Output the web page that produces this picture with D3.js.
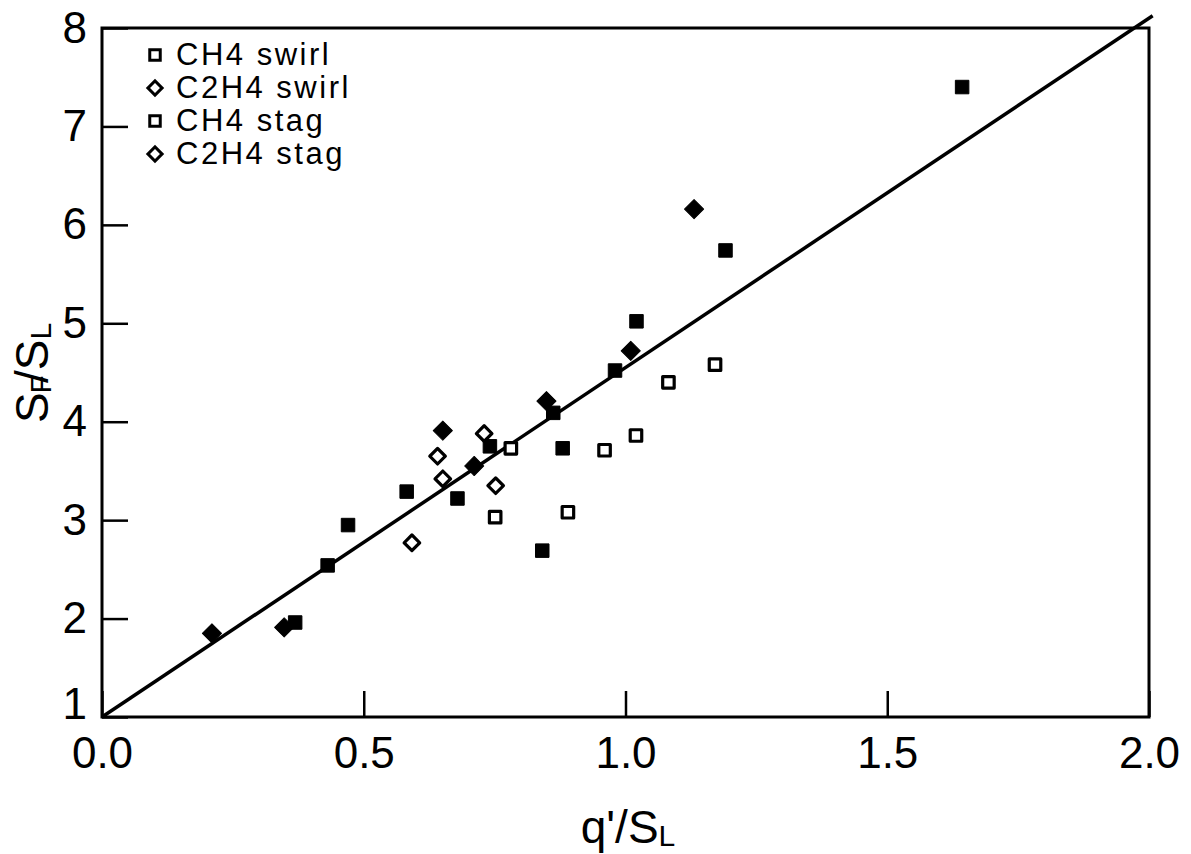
<!DOCTYPE html>
<html>
<head>
<meta charset="utf-8">
<script src="https://cdn.jsdelivr.net/npm/d3@7"></script>
<style>
  body { margin: 0; background: #fff; }
  text { font-family: "Liberation Sans", Arial, Helvetica, sans-serif; fill: #000; }
</style>
</head>
<body>
<div id="canvas"></div>
<script>
// data: [q'/SL, SF/SL]
const ch4Swirl = [
  [1.643, 7.40], [1.191, 5.74], [1.021, 5.02], [0.980, 4.52], [0.862, 4.09],
  [0.880, 3.73], [0.741, 3.75], [0.582, 3.29], [0.679, 3.22], [0.470, 2.95],
  [0.431, 2.54], [0.841, 2.69], [0.369, 1.96]
];
const c2h4Swirl = [
  [0.210, 1.85], [0.348, 1.91], [0.651, 3.91], [0.711, 3.55], [0.849, 4.21],
  [1.010, 4.72], [1.131, 6.16]
];
const ch4Stag = [
  [0.781, 3.73], [0.751, 3.03], [0.890, 3.08], [0.960, 3.71], [1.020, 3.86],
  [1.082, 4.40], [1.171, 4.58]
];
const c2h4Stag = [
  [0.730, 3.88], [0.641, 3.65], [0.651, 3.42], [0.752, 3.35], [0.592, 2.77]
];
// fit line SF/SL = 1 + 3.55 q'/SL
const fitLine = [[0, 1], [2.007, 8.125]];
const xTicks = [0, 0.5, 1.0, 1.5, 2.0];
const yTicks = [1, 2, 3, 4, 5, 6, 7, 8];
const legendNames = ["CH4 swirl", "C2H4 swirl", "CH4 stag", "C2H4 stag"];

const width = 1191, height = 854;
const margin = { top: 28, left: 102, bottom: 137, right: 42 };
const iwidth = width - margin.left - margin.right;
const iheight = height - margin.top - margin.bottom;

const svg = d3.select("#canvas").append("svg")
  .attr("width", width)
  .attr("height", height);

const g = svg.append("g").attr("transform", `translate(${margin.left},${margin.top})`);

const x = d3.scaleLinear().domain([0, 2]).range([0, iwidth]);
const y = d3.scaleLinear().domain([1, 8]).range([iheight, 0]);

// axes with inward ticks
const xAxis = g.append("g")
  .attr("transform", `translate(0,${iheight})`)
  .call(d3.axisBottom(x).tickValues(xTicks).tickFormat(d3.format(".1f"))
    .tickSizeInner(-26).tickSizeOuter(0).tickPadding(20));
const yAxis = g.append("g")
  .call(d3.axisLeft(y).tickValues(yTicks).tickFormat(d3.format("d"))
    .tickSizeInner(-26).tickSizeOuter(0).tickPadding(15));

[xAxis, yAxis].forEach(a => {
  a.select(".domain").remove();
  a.selectAll("line").attr("stroke", "#000").attr("stroke-width", 2.5);
  a.selectAll("text").style("font-size", "44px").attr("fill", "#000");
});
// the "1" sits above its tick so it clears "0.0"
yAxis.selectAll(".tick text").filter(d => d === 1).attr("dy", "0.03em");

// frame
g.append("rect")
  .attr("x", 0).attr("y", 0)
  .attr("width", iwidth).attr("height", iheight)
  .attr("fill", "none").attr("stroke", "#000").attr("stroke-width", 3);

// fit line
g.append("path")
  .datum(fitLine)
  .attr("fill", "none")
  .attr("stroke", "#000")
  .attr("stroke-width", 3.5)
  .attr("d", d3.line().x(d => x(d[0])).y(d => y(d[1])));

function drawSet(data, side, diamond, filled) {
  g.append("g").selectAll("path").data(data).enter().append("path")
    .attr("d", d3.symbol().type(d3.symbolSquare).size(side * side))
    .attr("transform", d => `translate(${x(d[0])},${y(d[1])})` + (diamond ? " rotate(45)" : ""))
    .attr("fill", filled ? "#000" : "#fff")
    .attr("stroke", "#000")
    .attr("stroke-width", filled ? 1 : 3.2)
    .attr("stroke-linejoin", "round");
}

drawSet(ch4Stag, 11.5, false, false);
drawSet(c2h4Stag, 11, true, false);
drawSet(ch4Swirl, 13.5, false, true);
drawSet(c2h4Swirl, 13.5, true, true);

// legend (all markers drawn open, as in the original)
const legend = svg.append("g").attr("transform", "translate(155,0)");
legendNames.forEach((name, i) => {
  const cy = 55 + i * 33;
  legend.append("path")
    .attr("d", d3.symbol().type(d3.symbolSquare).size(i % 2 ? 100 : 110))
    .attr("transform", `translate(0,${cy})` + (i % 2 ? " rotate(45)" : ""))
    .attr("fill", "#fff").attr("stroke", "#000").attr("stroke-width", 3);
  legend.append("text")
    .attr("x", 21).attr("y", cy + 10)
    .style("font-size", "31px")
    .style("letter-spacing", "2.5px")
    .text(name);
});

// axis titles
const xl = svg.append("text")
  .attr("x", 628).attr("y", 843)
  .attr("text-anchor", "middle")
  .style("font-size", "46px");
xl.append("tspan").text("q'/S");
xl.append("tspan").attr("dy", 3).style("font-size", "30px").text("L");

const yl = svg.append("text")
  .attr("transform", "translate(48,373) rotate(-90)")
  .attr("text-anchor", "middle")
  .style("font-size", "46px");
yl.append("tspan").text("S");
yl.append("tspan").attr("dy", 3).attr("dx", -1).style("font-size", "30px").text("F");
yl.append("tspan").attr("dy", -3).attr("dx", -8).text("/S");
yl.append("tspan").attr("dy", 3).style("font-size", "30px").text("L");
</script>
</body>
</html>
